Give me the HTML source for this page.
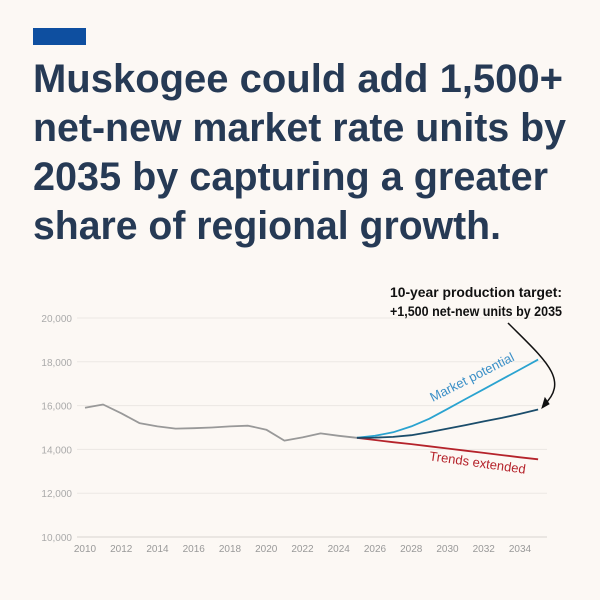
<!DOCTYPE html>
<html><head><meta charset="utf-8"><style>
html,body{margin:0;padding:0;background:#fcf8f4;}
svg{display:block;font-family:"Liberation Sans",sans-serif;}
</style></head><body>
<svg id="chart" width="600" height="600" viewBox="0 0 600 600">
<rect x="0" y="0" width="600" height="600" fill="#fcf8f4"/>
<rect x="33" y="28" width="53" height="17" fill="#0e4fa0"/>
<g fill="#263a55" font-weight="bold" font-size="40">
<text x="33" y="92" textLength="530" lengthAdjust="spacingAndGlyphs">Muskogee could add 1,500+</text>
<text x="33" y="141" textLength="533" lengthAdjust="spacingAndGlyphs">net-new market rate units by</text>
<text x="33" y="190" textLength="515" lengthAdjust="spacingAndGlyphs">2035 by capturing a greater</text>
<text x="33" y="239" textLength="468" lengthAdjust="spacingAndGlyphs">share of regional growth.</text>
</g>
<g id="grid"></g>
<g id="xticks"></g>
<g id="series"></g>
<text x="474" y="381" fill="#3a8fc7" font-size="13" font-family="Liberation Sans Narrow, Liberation Sans, sans-serif" transform="rotate(-27 474 381)" text-anchor="middle">Market potential</text>
<text x="477" y="467" fill="#b5232b" font-size="13" font-family="Liberation Sans Narrow, Liberation Sans, sans-serif" transform="rotate(8 477 467)" text-anchor="middle">Trends extended</text>
<g font-weight="bold" font-size="14" fill="#111">
<text x="390" y="297" textLength="172" lengthAdjust="spacingAndGlyphs">10-year production target:</text>
<text x="390" y="316" textLength="172" lengthAdjust="spacingAndGlyphs">+1,500 net-new units by 2035</text>
</g>
<path d="M508,323 C545,360 570,380 544,405" fill="none" stroke="#111" stroke-width="1.5"/>
<path d="M542,408 L545,398 L549,404 Z" fill="#111" stroke="#111" stroke-width="1"/>
</svg>
<script>
const yTicks=[10000,12000,14000,16000,18000,20000];
const yTickLabels=["10,000","12,000","14,000","16,000","18,000","20,000"];
const xTicks=[2010,2012,2014,2016,2018,2020,2022,2024,2026,2028,2030,2032,2034];
const histYears=[2010,2011,2012,2013,2014,2015,2016,2017,2018,2019,2020,2021,2022,2023,2024,2025];
const histValues=[15900,16050,15650,15200,15050,14950,14970,15000,15050,15080,14900,14400,14550,14730,14620,14530];
const projYears=[2025,2026,2027,2028,2029,2030,2031,2032,2033,2034,2035];
const marketValues=[14530,14620,14780,15050,15400,15850,16300,16750,17200,17650,18100];
const targetValues=[14530,14540,14570,14650,14790,14950,15110,15280,15440,15620,15820];
const trendValues=[14530,14430,14330,14240,14140,14040,13940,13840,13740,13640,13550];
const NS="http://www.w3.org/2000/svg";
function xS(y){return 85+(y-2010)*18.125;}
function yS(v){return 537-(v-10000)*0.0219;}
function mk(tag,attrs,parent){const e=document.createElementNS(NS,tag);for(const k in attrs)e.setAttribute(k,attrs[k]);parent.appendChild(e);return e;}
const grid=document.getElementById('grid');
yTicks.forEach((t,i)=>{
  const l=mk('line',{x1:77,x2:547,y1:yS(t),y2:yS(t),stroke:i===0?'#d8d4d0':'#ebe7e3','stroke-width':1},grid);
  
  
  const tx=mk('text',{x:72,y:yS(t)+4,'text-anchor':'end','font-size':10,fill:'#aaa'},grid);
  tx.textContent=yTickLabels[i];
  
  
});
const xt=document.getElementById('xticks');
xTicks.forEach(t=>{
  const tx=mk('text',{x:xS(t),y:552,'text-anchor':'middle','font-size':10,fill:'#999'},xt);
  tx.textContent=t;
  
  
});
const ser=document.getElementById('series');
function line(years,vals,color,name){
  const d=years.map((y,i)=>(i?'L':'M')+xS(y).toFixed(1)+','+yS(vals[i]).toFixed(1)).join(' ');
  const p=mk('path',{d:d,fill:'none',stroke:color,'stroke-width':1.8,'stroke-linejoin':'round'},ser);
  
  
}
line(histYears,histValues,'#999999','historical-line');
line(projYears,trendValues,'#b5232b','trends-extended-line');
line(projYears,marketValues,'#2aa3d0','market-potential-line');
line(projYears,targetValues,'#1b4d6b','production-target-line');
</script>
</body></html>
